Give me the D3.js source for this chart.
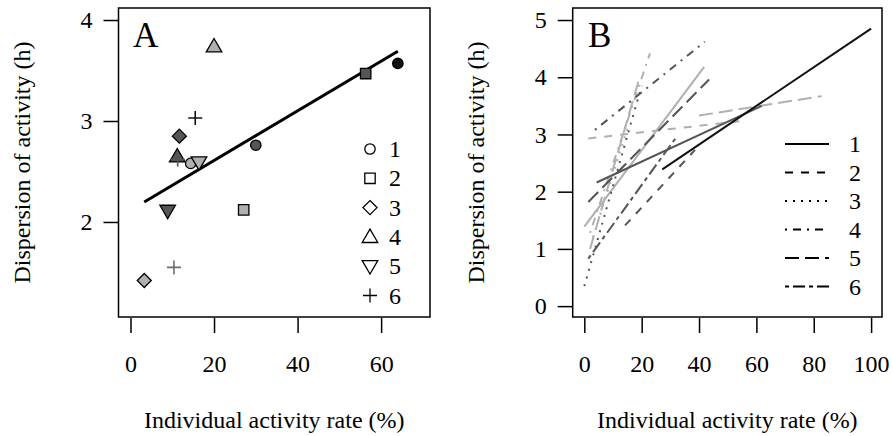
<!DOCTYPE html>
<html>
<head>
<meta charset="utf-8">
<script src="https://cdn.jsdelivr.net/npm/d3@7"></script>
<style>
  body { margin: 0; background: #fff; }
</style>
</head>
<body>
<svg id="chart" width="893" height="436"></svg>
<script>
const FONT = "'Liberation Serif', 'Times New Roman', serif";

// ---- data: panel A (points) ----
const groupLabels = ["1", "2", "3", "4", "5", "6"];
const aGroup = [1, 2, 1, 4, 6, 3, 4, 6, 1, 5, 5, 2, 6, 3];
const aShade = ["black", "dark", "dark", "light", "black", "dark", "dark", "dark", "light", "light", "dark", "light", "mid", "light"];
const aRate = [64.0, 56.3, 30.0, 20.0, 15.5, 11.7, 11.2, 11.3, 14.4, 16.4, 8.9, 27.1, 10.4, 3.3];
const aDisp = [3.57, 3.47, 2.76, 3.74, 3.03, 2.85, 2.65, 2.62, 2.58, 2.59, 2.11, 2.12, 1.55, 1.42];
// linear fit
const fitIntercept = 2.117;
const fitSlope = 0.0246;

const aXTicks = [0, 20, 40, 60];
const aYTicks = [2, 3, 4];

// ---- data: panel B (fitted lines per individual) ----
const bGroup = [1, 1, 1, 2, 2, 3, 3, 4, 4, 5, 5, 5, 6];
const bShade = ["black", "dark", "light", "dark", "light", "dark", "light", "dark", "light", "dark", "light", "light", "dark"];
const bRate = [[27.2, 100], [4.3, 61.9], [0, 41.8], [14.2, 38.6], [1.4, 55.4], [0, 20], [3, 15], [3.7, 42], [2, 22.9], [1.4, 43.5], [2, 19], [40, 82.8], [1.4, 32.2]];
const bDisp = [[2.39, 4.85], [2.16, 3.5], [1.39, 4.18], [1.41, 2.73], [2.93, 3.24], [0.35, 3.85], [1.2, 3.1], [3.08, 4.62], [1.28, 4.42], [1.82, 3.96], [1.0, 3.95], [3.33, 3.67], [0.83, 2.96]];

const bXTicks = [0, 20, 40, 60, 80, 100];
const bYTicks = [0, 1, 2, 3, 4, 5];

// ---- styles ----
const shadeColor = d3.scaleOrdinal()
  .domain(["black", "dark", "mid", "light"])
  .range(["#111111", "#555555", "#6e6e6e", "#b0b0b0"]);
// R lty patterns (lwd 2 -> 2px units)
const dashFor = d3.scaleOrdinal()
  .domain([1, 2, 3, 4, 5, 6])
  .range(["none", "8,8", "2,6", "2,6,8,6", "14,6", "4,4,12,4"]);

const svg = d3.select("#chart");
svg.append("rect").attr("width", 893).attr("height", 436).attr("fill", "#fff");

function txt(x, y, s, size) {
  return svg.append("text").attr("x", x).attr("y", y)
    .attr("font-family", FONT).attr("font-size", size).attr("fill", "#000").text(s);
}

// symbol path (R pch 21..25 and 3), s = half size in px
function symPath(g, s) {
  if (g === 1) return d3.arc()({innerRadius: 0, outerRadius: s, startAngle: 0, endAngle: 2 * Math.PI});
  if (g === 2) return `M${-s},${-s}H${s}V${s}H${-s}Z`;
  if (g === 3) { const d = s * 1.35; return `M0,${-d}L${d},0L0,${d}L${-d},0Z`; }
  if (g === 4) { const w = s * 1.5; return `M0,${-w}L${w},${w * 0.72}L${-w},${w * 0.72}Z`; }
  if (g === 5) { const w = s * 1.5; return `M0,${w}L${w},${-w * 0.72}L${-w},${-w * 0.72}Z`; }
  const p = s * 1.35;
  return `M${-p},0H${p}M0,${-p}V${p}`;
}

function frame(x0, x1, y0, y1) {
  svg.append("rect").attr("x", x0).attr("y", y0).attr("width", x1 - x0).attr("height", y1 - y0)
    .attr("fill", "none").attr("stroke", "#000").attr("stroke-width", 1.5);
}

function drawAxes(x, y, xTicks, yTicks, boxL, boxB, titleX) {
  const ax = svg.append("g").attr("transform", `translate(0,${boxB + 1})`)
    .call(d3.axisBottom(x).tickValues(xTicks).tickSize(15).tickPadding(22).tickFormat(d3.format("d")));
  ax.attr("font-family", FONT).attr("font-size", 24);
  ax.select(".domain").remove();
  ax.selectAll("line").attr("stroke", "#000").attr("stroke-width", 1.5);
  ax.selectAll("text").attr("fill", "#000");

  const ay = svg.append("g").attr("transform", `translate(${boxL},0)`)
    .call(d3.axisLeft(y).tickValues(yTicks).tickSize(15).tickPadding(11).tickFormat(d3.format("d")));
  ay.attr("font-family", FONT).attr("font-size", 24);
  ay.select(".domain").remove();
  ay.selectAll("line").attr("stroke", "#000").attr("stroke-width", 1.5);
  ay.selectAll("text").attr("fill", "#000");

  txt((x.range()[0] + x.range()[1]) / 2, 428, "Individual activity rate (%)", 24)
    .attr("text-anchor", "middle");
  txt(0, 0, "Dispersion of activity (h)", 24)
    .attr("transform", `translate(${titleX},${(y.range()[0] + y.range()[1]) / 2}) rotate(-90)`)
    .attr("text-anchor", "middle");
}

// ================= Panel A =================
const xA = d3.scaleLinear().domain([-2.87, 71.7]).range([118.5, 430]);
const yA = d3.scaleLinear().domain([1.059, 4.119]).range([317, 8]);

drawAxes(xA, yA, aXTicks, aYTicks, 118.5, 317, 30);

// fit line across observed range
const fitX = d3.extent(aRate);
svg.append("path")
  .datum(fitX)
  .attr("d", d3.line().x(d => xA(d)).y(d => yA(fitIntercept + fitSlope * d)))
  .attr("stroke", "#000").attr("stroke-width", 3).attr("fill", "none");

// points
aRate.forEach((r, i) => {
  const g = aGroup[i];
  const c = shadeColor(aShade[i]);
  svg.append("path")
    .attr("transform", `translate(${xA(r)},${yA(aDisp[i])})`)
    .attr("d", symPath(g, 5.2))
    .attr("fill", g === 6 ? "none" : c)
    .attr("stroke", g === 6 ? c : "#000")
    .attr("stroke-width", g === 6 ? 1.6 : 1.3);
});

txt(133, 47, "A", 35);

// legend A
groupLabels.forEach((lab, i) => {
  const ly = 149 + i * 29.3;
  svg.append("path").attr("transform", `translate(370,${ly})`)
    .attr("d", symPath(+lab, 5.2)).attr("fill", "none").attr("stroke", "#000").attr("stroke-width", 1.3);
  txt(389, ly + 8, lab, 24);
});

frame(118.5, 430, 8, 317);

// ================= Panel B =================
const xB = d3.scaleLinear().domain([-4.05, 103.8]).range([572.7, 882]);
const yB = d3.scaleLinear().domain([-0.19, 5.21]).range([317, 8]);

drawAxes(xB, yB, bXTicks, bYTicks, 572.7, 317, 484);

const bLine = d3.line().x(d => xB(d[0])).y(d => yB(d[1]));
// draw light first, dark on top
const order = d3.range(bRate.length).sort((a, b) =>
  ["light", "dark", "black"].indexOf(bShade[a]) - ["light", "dark", "black"].indexOf(bShade[b]));
order.forEach(i => {
  svg.append("path")
    .datum([[bRate[i][0], bDisp[i][0]], [bRate[i][1], bDisp[i][1]]])
    .attr("d", bLine)
    .attr("fill", "none")
    .attr("stroke", shadeColor(bShade[i]))
    .attr("stroke-width", 2)
    .attr("stroke-dasharray", dashFor(bGroup[i]));
});

txt(588, 47, "B", 35);

// legend B
groupLabels.forEach((lab, i) => {
  const ly = 144 + i * 28.5;
  svg.append("line").attr("x1", 785).attr("x2", 829).attr("y1", ly).attr("y2", ly)
    .attr("stroke", "#000").attr("stroke-width", 2).attr("stroke-dasharray", dashFor(+lab));
  txt(849, ly + 8, lab, 24);
});

frame(572.7, 882, 8, 317);
</script>
</body>
</html>
